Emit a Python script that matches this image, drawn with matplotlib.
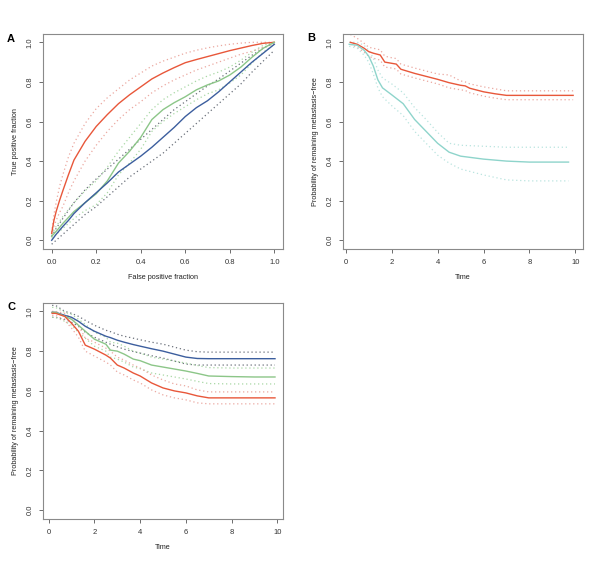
import matplotlib
matplotlib.use("Agg")
import matplotlib.pyplot as plt
import numpy as np

plt.rcParams['font.family'] = ['Liberation Sans', 'DejaVu Sans']

RED = '#E8573A'
BLUE = '#3C5E9E'
GREEN = '#8CC688'
TEAL = '#8ED4CB'
RED_CI = '#EBA8A0'
BLUE_CI = '#6A707A'
GREEN_CI = '#A9D8A5'
TEAL_CI = '#B9E4DF'

# ---------------- Panel A: ROC curves ----------------
fpr = [0.0, 0.01, 0.02, 0.035, 0.05, 0.075, 0.1, 0.15, 0.2, 0.25, 0.3, 0.35, 0.4, 0.45, 0.5, 0.55, 0.6, 0.65, 0.7, 0.75, 0.8, 0.85, 0.9, 0.95, 1.0]
a_red = [0.035, 0.10, 0.145, 0.20, 0.25, 0.33, 0.405, 0.50, 0.575, 0.635, 0.69, 0.735, 0.775, 0.815, 0.845, 0.872, 0.897, 0.913, 0.928, 0.943, 0.958, 0.971, 0.984, 0.995, 1.0]
a_red_hi = [0.04, 0.13, 0.19, 0.27, 0.33, 0.42, 0.49, 0.59, 0.665, 0.72, 0.765, 0.81, 0.845, 0.88, 0.905, 0.925, 0.945, 0.96, 0.972, 0.982, 0.99, 0.996, 1.0, 1.0, 1.0]
a_red_lo = [0.03, 0.07, 0.10, 0.14, 0.17, 0.24, 0.30, 0.40, 0.48, 0.55, 0.61, 0.66, 0.70, 0.745, 0.78, 0.81, 0.835, 0.86, 0.88, 0.90, 0.92, 0.94, 0.955, 0.975, 0.99]
a_blue = [0.0, 0.015, 0.03, 0.05, 0.07, 0.10, 0.135, 0.19, 0.24, 0.29, 0.345, 0.385, 0.425, 0.47, 0.52, 0.57, 0.625, 0.67, 0.705, 0.75, 0.80, 0.85, 0.90, 0.945, 0.99]
a_blue_hi = [0.02, 0.04, 0.06, 0.085, 0.11, 0.15, 0.19, 0.255, 0.31, 0.36, 0.41, 0.46, 0.51, 0.56, 0.61, 0.66, 0.70, 0.74, 0.78, 0.815, 0.855, 0.895, 0.935, 0.97, 1.0]
a_blue_lo = [-0.02, -0.01, 0.0, 0.015, 0.03, 0.055, 0.08, 0.13, 0.17, 0.22, 0.27, 0.32, 0.36, 0.40, 0.44, 0.49, 0.54, 0.59, 0.64, 0.69, 0.74, 0.79, 0.85, 0.905, 0.96]
a_green = [0.02, 0.033, 0.045, 0.065, 0.085, 0.115, 0.145, 0.19, 0.235, 0.30, 0.39, 0.45, 0.52, 0.61, 0.66, 0.695, 0.725, 0.76, 0.785, 0.805, 0.835, 0.875, 0.925, 0.97, 1.0]
a_green_hi = [0.03, 0.05, 0.07, 0.095, 0.12, 0.155, 0.19, 0.25, 0.30, 0.37, 0.45, 0.52, 0.59, 0.66, 0.71, 0.745, 0.775, 0.805, 0.83, 0.85, 0.875, 0.91, 0.95, 0.985, 1.0]
a_green_lo = [0.01, 0.02, 0.03, 0.045, 0.06, 0.085, 0.11, 0.15, 0.18, 0.24, 0.33, 0.39, 0.46, 0.55, 0.60, 0.64, 0.675, 0.71, 0.74, 0.76, 0.795, 0.835, 0.895, 0.95, 0.99]

# ---------------- Panel B: survival, two groups ----------------
b_t_red = [0.2, 0.5, 0.8, 1.0, 1.2, 1.5, 1.7, 2.0, 2.2, 2.4, 3.0, 3.5, 4.0, 4.5, 5.0, 5.2, 5.4, 6.0, 6.5, 7.0, 8.0, 9.0, 9.9]
b_red = [1.0, 0.99, 0.97, 0.953, 0.945, 0.936, 0.90, 0.894, 0.89, 0.864, 0.843, 0.828, 0.813, 0.796, 0.783, 0.78, 0.768, 0.75, 0.74, 0.732, 0.732, 0.732, 0.732]
b_red_hi = [1.04, 1.02, 0.995, 0.975, 0.97, 0.962, 0.93, 0.922, 0.918, 0.89, 0.87, 0.855, 0.84, 0.835, 0.805, 0.80, 0.79, 0.775, 0.765, 0.755, 0.755, 0.755, 0.755]
b_red_lo = [0.99, 0.975, 0.95, 0.93, 0.92, 0.91, 0.875, 0.87, 0.865, 0.84, 0.82, 0.805, 0.79, 0.77, 0.76, 0.757, 0.745, 0.728, 0.718, 0.71, 0.71, 0.71, 0.71]
b_t_teal = [0.15, 0.5, 0.8, 1.0, 1.2, 1.4, 1.6, 2.0, 2.5, 3.0, 3.5, 4.0, 4.5, 5.0, 6.0, 7.0, 8.0, 9.7]
b_teal = [0.99, 0.985, 0.96, 0.93, 0.88, 0.81, 0.77, 0.735, 0.69, 0.61, 0.55, 0.49, 0.445, 0.425, 0.41, 0.40, 0.395, 0.395]
b_teal_hi = [1.0, 1.0, 0.985, 0.96, 0.92, 0.86, 0.82, 0.79, 0.745, 0.67, 0.61, 0.545, 0.49, 0.48, 0.475, 0.47, 0.47, 0.47]
b_teal_lo = [0.98, 0.97, 0.935, 0.90, 0.84, 0.77, 0.725, 0.68, 0.63, 0.55, 0.49, 0.43, 0.39, 0.36, 0.33, 0.305, 0.30, 0.30]

# ---------------- Panel C: survival, three groups ----------------
c_t = [0.15, 0.3, 0.7, 1.0, 1.3, 1.6, 2.0, 2.5, 2.7, 3.0, 3.3, 3.7, 4.0, 4.5, 5.0, 5.5, 6.0, 6.5, 7.0, 8.0, 9.0, 9.9]
c_blue = [0.995, 0.995, 0.98, 0.97, 0.95, 0.925, 0.90, 0.875, 0.868, 0.855, 0.845, 0.833, 0.825, 0.812, 0.80, 0.785, 0.77, 0.763, 0.762, 0.762, 0.762, 0.762]
c_blue_hi = [1.03, 1.03, 1.0, 0.99, 0.975, 0.955, 0.93, 0.905, 0.898, 0.885, 0.875, 0.865, 0.857, 0.845, 0.835, 0.82, 0.805, 0.797, 0.795, 0.795, 0.795, 0.795]
c_blue_lo = [0.97, 0.97, 0.96, 0.945, 0.925, 0.895, 0.87, 0.845, 0.835, 0.822, 0.81, 0.798, 0.79, 0.777, 0.765, 0.75, 0.735, 0.73, 0.73, 0.73, 0.73, 0.73]
c_green = [0.995, 0.995, 0.975, 0.96, 0.93, 0.90, 0.86, 0.835, 0.805, 0.80, 0.785, 0.76, 0.752, 0.73, 0.72, 0.71, 0.70, 0.688, 0.675, 0.672, 0.67, 0.67]
c_green_hi = [1.02, 1.02, 0.995, 0.985, 0.96, 0.935, 0.895, 0.87, 0.845, 0.84, 0.825, 0.80, 0.79, 0.77, 0.76, 0.75, 0.74, 0.728, 0.717, 0.715, 0.715, 0.715]
c_green_lo = [0.97, 0.97, 0.95, 0.93, 0.895, 0.865, 0.825, 0.80, 0.77, 0.76, 0.745, 0.72, 0.712, 0.69, 0.68, 0.67, 0.66, 0.648, 0.637, 0.635, 0.635, 0.635]
c_red = [0.99, 0.99, 0.975, 0.94, 0.90, 0.83, 0.81, 0.78, 0.765, 0.73, 0.715, 0.69, 0.675, 0.64, 0.615, 0.60, 0.59, 0.575, 0.565, 0.565, 0.565, 0.565]
c_red_hi = [1.0, 1.0, 0.99, 0.965, 0.93, 0.865, 0.845, 0.815, 0.80, 0.77, 0.755, 0.73, 0.715, 0.68, 0.655, 0.635, 0.625, 0.605, 0.595, 0.595, 0.595, 0.595]
c_red_lo = [0.98, 0.98, 0.955, 0.915, 0.87, 0.80, 0.775, 0.745, 0.73, 0.695, 0.68, 0.655, 0.64, 0.605, 0.58, 0.565, 0.555, 0.54, 0.535, 0.535, 0.535, 0.535]

ticks01 = [0.0, 0.2, 0.4, 0.6, 0.8, 1.0]
ticks_time = [0, 2, 4, 6, 8, 10]

fig = plt.figure(figsize=(6.0, 5.61), dpi=100)

W, H = 600.0, 561.0
def add_ax(x0, y0, x1, y1):
    return fig.add_axes([x0 / W, 1 - y1 / H, (x1 - x0) / W, (y1 - y0) / H])

axA = add_ax(43, 34, 283, 249)
axB = add_ax(343, 34, 583, 249)
axC = add_ax(43, 303, 283, 519)

DOT = (0, (1, 2.2))
SW = 1.0
DW = 0.9

def style(ax, xticks, xlabels, ylabel, xlabel, xlim):
    ax.set_xlim(*xlim)
    ax.set_ylim(-0.044, 1.042)
    ax.set_xticks(xticks)
    ax.set_xticklabels(xlabels)
    ax.set_yticks(ticks01)
    ax.set_yticklabels(['%.1f' % t for t in ticks01], rotation=90, va='center')
    for s in ax.spines.values():
        s.set_color('#8a8a8a')
        s.set_linewidth(0.8)
    ax.tick_params(axis='both', direction='out', length=3, width=0.6, color='#555555',
                   labelsize=5.5, labelcolor='#333333', pad=4)
    ax.set_xlabel(xlabel, fontsize=5.2, color='#222222', labelpad=6)
    ax.set_ylabel(ylabel, fontsize=5.2, color='#222222', labelpad=5)

# Panel A
axA.plot(fpr, a_red_hi, color=RED_CI, lw=DW, ls=DOT)
axA.plot(fpr, a_red_lo, color=RED_CI, lw=DW, ls=DOT)
axA.plot(fpr, a_blue_hi, color=BLUE_CI, lw=DW, ls=DOT)
axA.plot(fpr, a_blue_lo, color=BLUE_CI, lw=DW, ls=DOT)
axA.plot(fpr, a_green_hi, color=GREEN_CI, lw=DW, ls=DOT)
axA.plot(fpr, a_green_lo, color=GREEN_CI, lw=DW, ls=DOT)
axA.plot(fpr, a_red, color=RED, lw=SW)
axA.plot(fpr, a_green, color=GREEN, lw=SW)
axA.plot(fpr, a_blue, color=BLUE, lw=SW)
style(axA, ticks01, ['%.1f' % t for t in ticks01], 'True positive fraction', 'False positive fraction', (-0.039, 1.039))

# Panel B
axB.plot(b_t_red, b_red_hi, color=RED_CI, lw=DW, ls=DOT)
axB.plot(b_t_red, b_red_lo, color=RED_CI, lw=DW, ls=DOT)
axB.plot(b_t_teal, b_teal_hi, color=TEAL_CI, lw=DW, ls=DOT)
axB.plot(b_t_teal, b_teal_lo, color=TEAL_CI, lw=DW, ls=DOT)
axB.plot(b_t_red, b_red, color=RED, lw=SW)
axB.plot(b_t_teal, b_teal, color=TEAL, lw=SW)
style(axB, ticks_time, [str(t) for t in ticks_time], 'Probability of remaining metastasis\u2212free', 'Time', (-0.12, 10.33))

# Panel C
axC.plot(c_t, c_blue_hi, color=BLUE_CI, lw=DW, ls=DOT)
axC.plot(c_t, c_blue_lo, color=BLUE_CI, lw=DW, ls=DOT)
axC.plot(c_t, c_green_hi, color=GREEN_CI, lw=DW, ls=DOT)
axC.plot(c_t, c_green_lo, color=GREEN_CI, lw=DW, ls=DOT)
axC.plot(c_t, c_red_hi, color=RED_CI, lw=DW, ls=DOT)
axC.plot(c_t, c_red_lo, color=RED_CI, lw=DW, ls=DOT)
axC.plot(c_t, c_blue, color=BLUE, lw=SW)
axC.plot(c_t, c_green, color=GREEN, lw=SW)
axC.plot(c_t, c_red, color=RED, lw=SW)
style(axC, ticks_time, [str(t) for t in ticks_time], 'Probability of remaining metastasis\u2212free', 'Time', (-0.25, 10.25))

fig.text(7 / W, 1 - 39 / H, 'A', fontsize=8, fontweight='bold', va='center', ha='left')
fig.text(307 / W, 1 - 38 / H, 'B', fontsize=8, fontweight='bold', va='center', ha='left')
fig.text(7 / W, 1 - 307 / H, 'C', fontsize=8, fontweight='bold', va='center', ha='left')

fig.savefig('out.png', dpi=100, facecolor='white')
